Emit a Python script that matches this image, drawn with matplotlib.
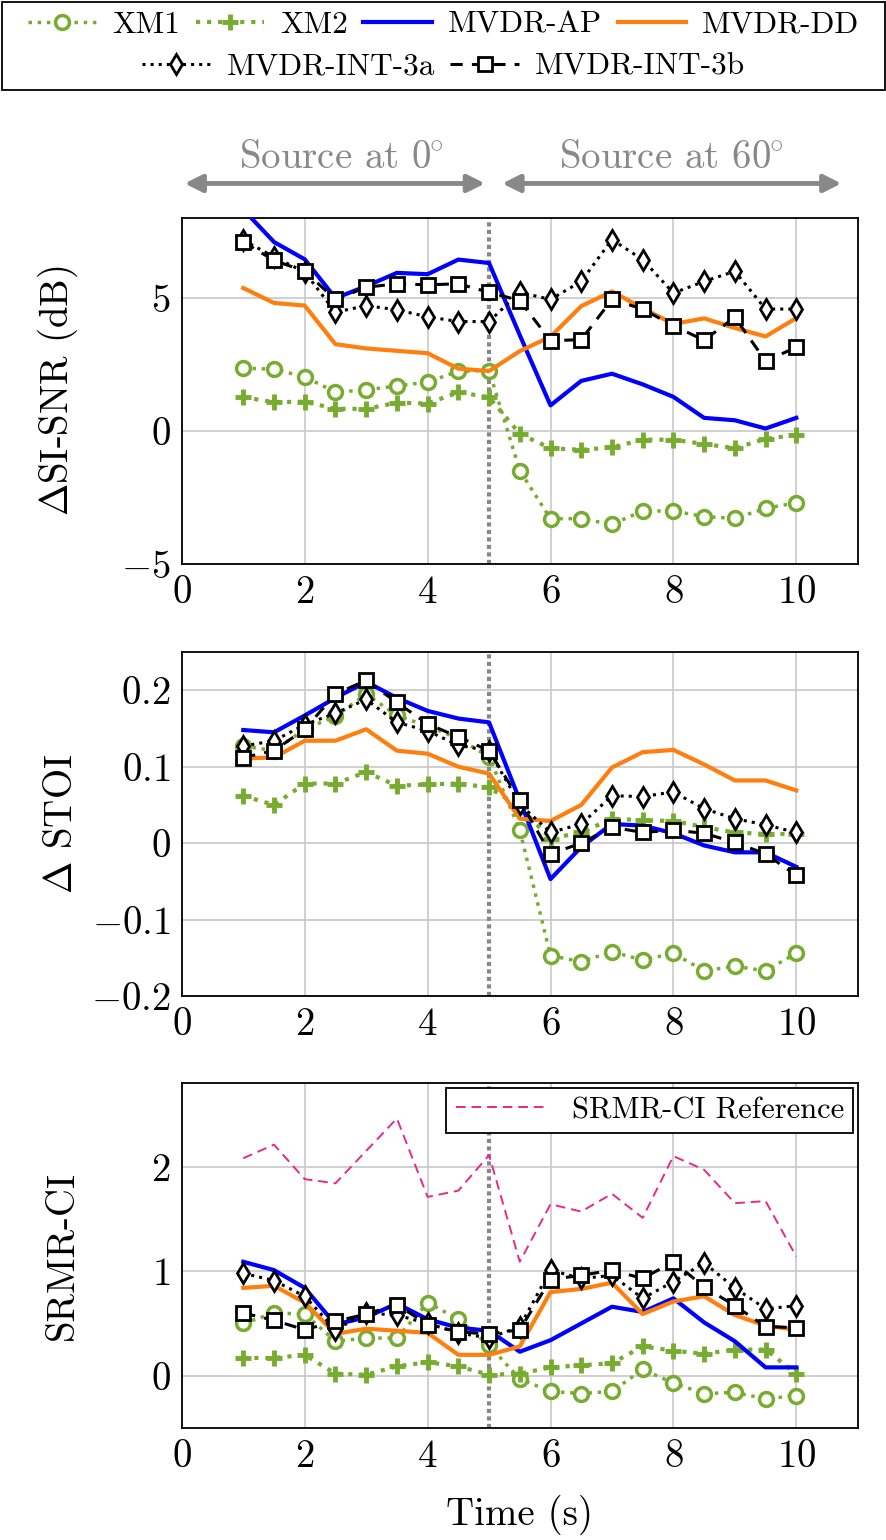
import numpy as np
import matplotlib
matplotlib.use("Agg")
import matplotlib.pyplot as plt
from matplotlib.patches import Rectangle

plt.rcParams['font.family'] = ['cmr10', 'DejaVu Serif']
plt.rcParams['mathtext.fontset'] = 'cm'
plt.rcParams['axes.formatter.use_mathtext'] = True

t = np.arange(1, 10.01, 0.5)

# Delta SI-SNR (dB)
snr_xm1 = [2.36, 2.32, 2.03, 1.46, 1.54, 1.69, 1.84, 2.24, 2.27,
           -1.49, -3.30, -3.30, -3.51, -3.01, -3.01, -3.22, -3.29, -2.91, -2.70]
snr_xm2 = [1.27, 1.08, 1.10, 0.83, 0.83, 1.06, 1.03, 1.45, 1.27,
           -0.11, -0.65, -0.71, -0.62, -0.33, -0.33, -0.49, -0.65, -0.30, -0.15]
snr_ap = [8.32, 7.10, 6.45, 4.99, 5.44, 5.94, 5.89, 6.44, 6.31,
          3.6, 0.96, 1.88, 2.15, 1.75, 1.28, 0.49, 0.40, 0.09, 0.49]
snr_dd = [5.37, 4.81, 4.71, 3.26, 3.10, 3.01, 2.92, 2.34, 2.25,
          3.0, 3.54, 4.69, 5.24, 4.61, 4.02, 4.23, 3.87, 3.55, 4.24]
snr_3a = [7.17, 6.54, 5.97, 4.46, 4.71, 4.55, 4.29, 4.11, 4.11,
          5.21, 4.94, 5.62, 7.19, 6.44, 5.18, 5.62, 6.0, 4.58, 4.58]
snr_3b = [7.10, 6.41, 6.0, 4.94, 5.40, 5.53, 5.49, 5.53, 5.21,
          4.90, 3.39, 3.43, 4.94, 4.58, 3.95, 3.41, 4.27, 2.63, 3.14]

# Delta STOI
stoi_xm1 = [0.127, 0.121, 0.149, 0.166, 0.195, 0.167, 0.153, 0.137, 0.113,
            0.017, -0.147, -0.155, -0.142, -0.153, -0.144, -0.167, -0.161, -0.167, -0.144]
stoi_xm2 = [0.062, 0.050, 0.078, 0.078, 0.093, 0.075, 0.077, 0.078, 0.073,
            0.047, 0.006, 0.014, 0.032, 0.030, 0.029, 0.021, 0.014, 0.012, 0.012]
stoi_ap = [0.148, 0.145, 0.167, 0.190, 0.211, 0.190, 0.173, 0.163, 0.158,
           0.056, -0.047, -0.005, 0.025, 0.023, 0.013, -0.003, -0.012, -0.012, -0.031]
stoi_dd = [0.111, 0.112, 0.134, 0.134, 0.149, 0.121, 0.117, 0.100, 0.091,
           0.032, 0.029, 0.050, 0.099, 0.119, 0.122, 0.103, 0.082, 0.082, 0.069]
stoi_3a = [0.127, 0.134, 0.155, 0.170, 0.188, 0.158, 0.147, 0.128, 0.121,
           0.051, 0.014, 0.025, 0.062, 0.061, 0.067, 0.045, 0.032, 0.024, 0.014]
stoi_3b = [0.112, 0.121, 0.149, 0.195, 0.213, 0.184, 0.156, 0.139, 0.121,
           0.056, -0.014, 0.0, 0.021, 0.014, 0.017, 0.013, 0.001, -0.014, -0.042]

# SRMR-CI
srmr_xm1 = [0.50, 0.60, 0.59, 0.33, 0.36, 0.36, 0.70, 0.54, 0.29,
            -0.03, -0.15, -0.17, -0.15, 0.06, -0.07, -0.17, -0.16, -0.22, -0.19]
srmr_xm2 = [0.17, 0.17, 0.20, 0.02, 0.01, 0.09, 0.13, 0.09, 0.01,
            0.02, 0.08, 0.10, 0.12, 0.28, 0.24, 0.21, 0.25, 0.25, 0.02]
srmr_ap = [1.09, 1.01, 0.84, 0.49, 0.56, 0.69, 0.54, 0.46, 0.43,
           0.23, 0.34, 0.50, 0.66, 0.61, 0.74, 0.51, 0.33, 0.08, 0.08]
srmr_dd = [0.84, 0.86, 0.70, 0.40, 0.45, 0.43, 0.41, 0.20, 0.20,
           0.28, 0.80, 0.83, 0.89, 0.59, 0.71, 0.76, 0.58, 0.48, 0.44]
srmr_3a = [0.98, 0.91, 0.76, 0.44, 0.60, 0.58, 0.50, 0.41, 0.36,
           0.47, 1.01, 0.93, 0.96, 0.74, 0.90, 1.08, 0.84, 0.64, 0.67]
srmr_3b = [0.60, 0.53, 0.44, 0.52, 0.59, 0.68, 0.49, 0.42, 0.40,
           0.44, 0.92, 0.96, 1.01, 0.93, 1.09, 0.85, 0.67, 0.47, 0.46]
srmr_ref = [2.08, 2.21, 1.88, 1.84, 2.15, 2.46, 1.71, 1.77, 2.11,
            1.09, 1.64, 1.57, 1.74, 1.51, 2.10, 1.97, 1.65, 1.67, 1.14]

green = '#77ac30'
styles = [
    dict(label='XM1', color=green, ls=':', lw=2.5, marker='o', ms=10, mfc='white', mew=2.5),
    dict(label='XM2', color=green, ls=':', lw=3, marker='+', ms=12, mew=3.5),
    dict(label='MVDR-AP', color='#0000ff', ls='-', lw=3),
    dict(label='MVDR-DD', color='#ff7f0e', ls='-', lw=3),
    dict(label='MVDR-INT-3a', color='black', ls=':', lw=2.2, marker='d', ms=10, mfc='white', mew=2),
    dict(label='MVDR-INT-3b', color='black', ls=(0, (4, 3)), lw=2.2, marker='s', ms=10.5, mfc='white', mew=2),
]

fs = 28

fig = plt.figure(figsize=(8.87, 15.4), dpi=100)
ax1 = fig.add_axes([0.205, 0.6338, 0.762, 0.2246])
ax2 = fig.add_axes([0.205, 0.3532, 0.762, 0.2234])
ax3 = fig.add_axes([0.205, 0.0727, 0.762, 0.2241])

panels = [
    (ax1, [snr_xm1, snr_xm2, snr_ap, snr_dd, snr_3a, snr_3b], (-5, 8), [-5, 0, 5], r'$\Delta$SI-SNR (dB)'),
    (ax2, [stoi_xm1, stoi_xm2, stoi_ap, stoi_dd, stoi_3a, stoi_3b], (-0.2, 0.25), [-0.2, -0.1, 0, 0.1, 0.2], r'$\Delta$ STOI'),
    (ax3, [srmr_xm1, srmr_xm2, srmr_ap, srmr_dd, srmr_3a, srmr_3b], (-0.5, 2.8), [0, 1, 2], 'SRMR-CI'),
]

handles = []
for ax, series, ylim, yt, ylab in panels:
    ax.axvline(5, color='#888888', ls=(0, (1, 0.8)), lw=3, zorder=1)
    hs = []
    for s, st in zip(series, styles):
        h, = ax.plot(t, s, zorder=3, **st)
        hs.append(h)
    handles = hs
    ax.set_xlim(0, 11)
    ax.set_ylim(*ylim)
    ax.set_xticks([0, 2, 4, 6, 8, 10])
    ax.set_yticks(yt)
    ax.grid(True, color='#c8c8c8', lw=1.2)
    ax.set_axisbelow(True)
    ax.tick_params(labelsize=fs, direction='in', length=0, pad=8)
    ax.set_ylabel(ylab, fontsize=fs)
    ax.yaxis.set_label_coords(-0.15, 0.5)
    for sp in ax.spines.values():
        sp.set_linewidth(1.3)

ax2.set_yticklabels(['$-0.2$', '$-0.1$', '$0$', '$0.1$', '$0.2$'])

ref, = ax3.plot(t, srmr_ref, color='#e7298a', ls=(0, (5, 3)), lw=1.4, zorder=2)
leg3 = ax3.legend([ref], ['SRMR-CI Reference'], loc='upper right', fontsize=22,
                  fancybox=False, edgecolor='black', framealpha=1,
                  borderaxespad=0.15, borderpad=0.3, handlelength=3)
leg3.get_frame().set_linewidth(1.3)
ax3.set_xlabel('Time (s)', fontsize=fs, labelpad=14)

# source arrows above the first panel
ax1.annotate('', xy=(0, 9.3), xytext=(4.98, 9.3), annotation_clip=False,
             arrowprops=dict(arrowstyle='<|-|>', color='#888888', lw=3.5, mutation_scale=26))
ax1.annotate('', xy=(5.17, 9.3), xytext=(10.78, 9.3), annotation_clip=False,
             arrowprops=dict(arrowstyle='<|-|>', color='#888888', lw=3.5, mutation_scale=26))
ax1.text(2.6, 10.25, r'Source at 0$^{\!\!\circ}$', color='#888888', fontsize=fs,
         ha='center', va='center', clip_on=False)
ax1.text(7.97, 10.25, r'Source at 60$^{\!\!\circ}$', color='#888888', fontsize=fs,
         ha='center', va='center', clip_on=False)

lkw = dict(frameon=False, fontsize=22.5, handlelength=2.2, columnspacing=0.5,
           handletextpad=0.5, borderaxespad=0, loc='center')
leg1 = fig.legend(handles[:4], [h.get_label() for h in handles[:4]], ncol=4,
                  bbox_to_anchor=(0.5, 0.9838), **lkw)
leg2 = fig.legend(handles[4:], [h.get_label() for h in handles[4:]], ncol=2,
                  bbox_to_anchor=(0.5, 0.9565), **lkw)
fig.add_artist(Rectangle((0.002, 0.9416), 0.996, 0.0571, transform=fig.transFigure,
                         fill=False, edgecolor='black', lw=1.3))

fig.savefig('out.png', dpi=100)
